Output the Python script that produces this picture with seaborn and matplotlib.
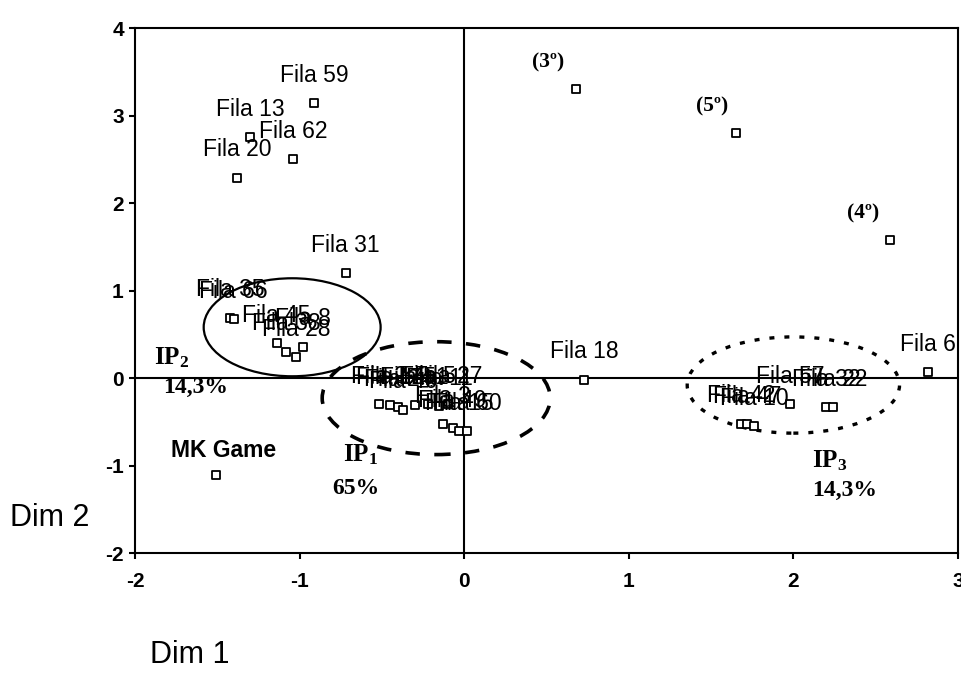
import matplotlib
matplotlib.use("Agg")
import matplotlib.pyplot as plt
from matplotlib.patches import Ellipse
import seaborn as sns
import pandas as pd

# Row points (Fila) from the correspondence analysis
fila_names = ["Fila 59", "Fila 13", "Fila 62", "Fila 20", "Fila 31", "Fila 18", "Fila 6",
              "Fila 35", "Fila 66", "Fila 45", "Fila 38", "Fila 28", "Fila 8",
              "Fila 2", "Fila 14", "Fila 24", "Fila 40", "Fila 51", "Fila 5",
              "Fila 11", "Fila 27", "Fila 3", "Fila 49", "Fila 15", "Fila 60",
              "Fila 57", "Fila 32", "Fila 22", "Fila 42", "Fila 47", "Fila 10"]
fila_dim1 = [-0.91, -1.30, -1.04, -1.38, -0.72, 0.73, 2.82,
             -1.42, -1.40, -1.14, -1.08, -1.02, -0.98,
             -0.52, -0.45, -0.40, -0.37, -0.30, -0.22,
             -0.15, -0.10, -0.13, -0.07, -0.03, 0.02,
             1.98, 2.20, 2.24, 1.68, 1.72, 1.76]
fila_dim2 = [3.14, 2.75, 2.50, 2.29, 1.20, -0.02, 0.07,
             0.69, 0.67, 0.40, 0.30, 0.24, 0.36,
             -0.30, -0.31, -0.33, -0.36, -0.31, -0.30,
             -0.32, -0.30, -0.53, -0.57, -0.61, -0.61,
             -0.30, -0.33, -0.33, -0.52, -0.53, -0.55]

# Column points (game positions and reference game)
col_names = ["(3º)", "(5º)", "(4º)", "MK Game"]
col_dim1 = [0.68, 1.65, 2.59, -1.51]
col_dim2 = [3.30, 2.80, 1.58, -1.11]

# Groups (ellipses) and their labels
group_names = ["IP$_{1}$", "IP$_{2}$", "IP$_{3}$"]
group_share = ["65%", "14,3%", "14,3%"]
group_center = [(-0.17, -0.23), (-1.045, 0.58), (2.0, -0.08)]
group_size = [(1.385, 1.29), (1.075, 1.12), (1.29, 1.10)]

xticks = [-2, -1, 0, 1, 2, 3]
yticks = [-2, -1, 0, 1, 2, 3, 4]

df = pd.DataFrame({"Dim 1": fila_dim1 + col_dim1,
                   "Dim 2": fila_dim2 + col_dim2,
                   "name": fila_names + col_names})

sns.set_style("white")
plt.rcParams['font.family'] = ['Liberation Sans', 'DejaVu Sans']
plt.rcParams['text.color'] = 'black'
plt.rcParams['xtick.color'] = 'black'
plt.rcParams['ytick.color'] = 'black'
plt.rcParams['axes.unicode_minus'] = False
plt.rcParams['mathtext.fontset'] = 'custom'
plt.rcParams['mathtext.rm'] = 'Liberation Serif:bold'
plt.rcParams['mathtext.it'] = 'Liberation Serif:bold'
serif = ["Liberation Serif", "DejaVu Serif"]

fig = plt.figure(figsize=(9.62, 6.75), dpi=100)
ax = fig.add_axes([0.1403, 0.1807, 0.8555, 0.7778])

ax.axhline(0, color="black", lw=1.5, zorder=1)
ax.axvline(0, color="black", lw=1.5, zorder=1)

sns.scatterplot(data=df, x="Dim 1", y="Dim 2", marker="s", s=26,
                facecolor="white", edgecolor="black", linewidth=1.3,
                ax=ax, zorder=3, legend=False)

# label offsets in points (default: centered above the marker)
special = {"(3º)": (-20, 19, "center"), "(5º)": (-17, 19, "center"),
           "(4º)": (-20, 19, "center"), "MK Game": (6, 18, "center")}
for name, x, y in zip(df["name"], df["Dim 1"], df["Dim 2"]):
    dx, dy, ha = special.get(name, (0, 20, "center"))
    if name.startswith("("):
        kw = dict(family=serif, fontweight="bold", fontsize=15.5)
    elif name == "MK Game":
        kw = dict(fontweight="bold", fontsize=16.5)
    else:
        kw = dict(fontsize=16.5)
    ax.annotate(name, (x, y), xytext=(dx, dy), textcoords="offset points",
                ha=ha, va="center", zorder=4, **kw)

styles = [dict(ls=(0, (4, 4)), lw=2.6), dict(ls="-", lw=1.6), dict(ls=(0, (1.5, 3)), lw=2.4)]
label_pos = [((-0.63, -0.88), (-0.66, -1.26)), ((-1.78, 0.23), (-1.63, -0.11)),
             ((2.22, -0.94), (2.31, -1.28))]
for name, share, c, (w, h), st, (p1, p2) in zip(group_names, group_share, group_center,
                                                 group_size, styles, label_pos):
    ax.add_patch(Ellipse(c, w, h, fill=False, edgecolor="black", zorder=2, **st))
    ax.text(*p1, name, ha="center", va="center", fontsize=18,
            family=serif, fontweight="bold")
    ax.text(*p2, share, ha="center", va="center", fontsize=17,
            family=serif, fontweight="bold")

ax.set_xlim(-2, 3)
ax.set_ylim(-2, 4)
ax.set_xticks(xticks)
ax.set_yticks(yticks)
ax.tick_params(axis="both", direction="out", length=4, width=1.5, labelsize=15,
               left=True, bottom=True, pad=4)
ax.tick_params(axis="x", pad=10)
for lab in ax.get_xticklabels() + ax.get_yticklabels():
    lab.set_fontweight("bold")
for sp in ax.spines.values():
    sp.set_color("black")
    sp.set_linewidth(1.5)
ax.set_xlabel("")
ax.set_ylabel("")

fig.text(0.01, 0.233, "Dim 2", fontsize=22, va="center", ha="left")
fig.text(0.156, 0.03, "Dim 1", fontsize=22, va="center", ha="left")

fig.savefig("out.png", dpi=100)
